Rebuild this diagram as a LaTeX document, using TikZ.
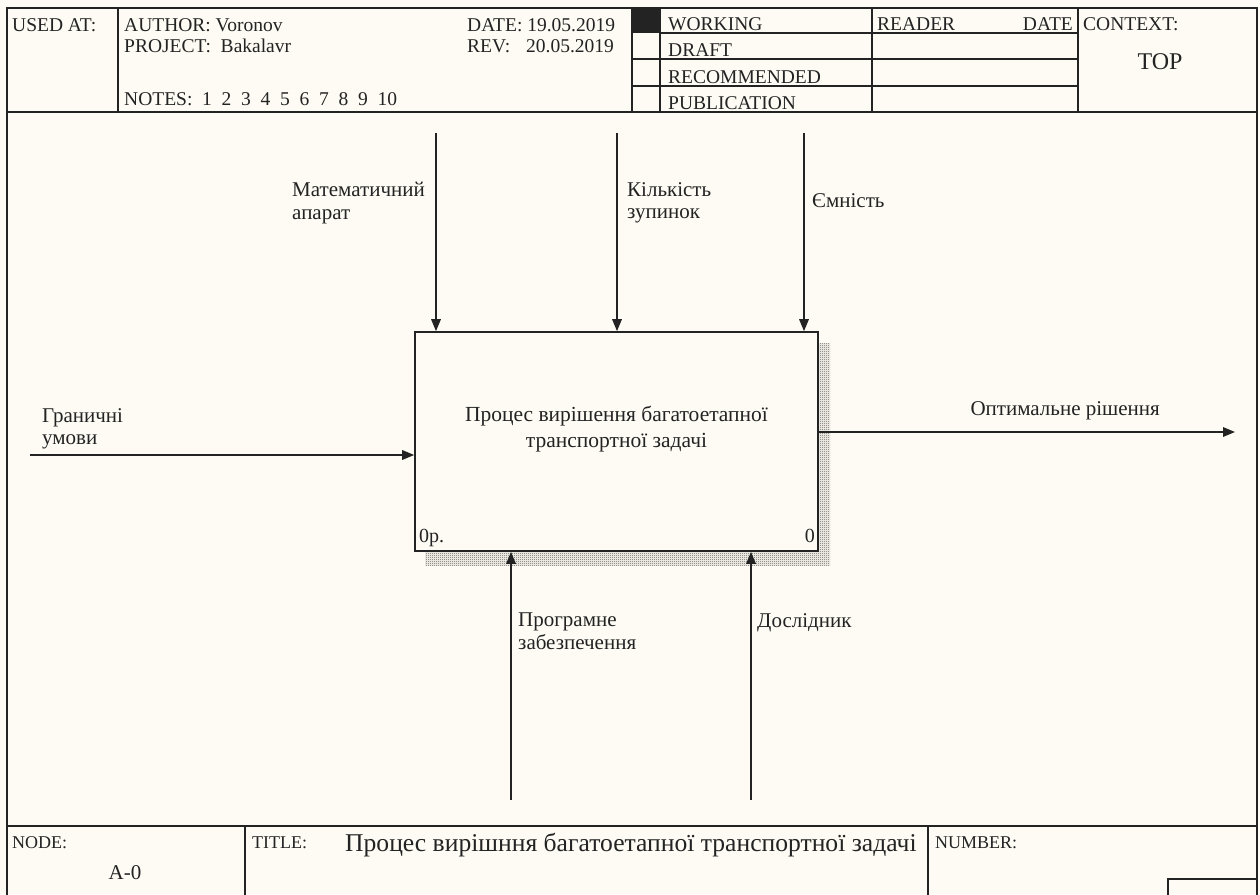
\documentclass[tikz,border=0pt]{standalone}
\usepackage{fontspec}
\setmainfont{Liberation Serif}
\usetikzlibrary{arrows.meta,patterns}
\definecolor{paper}{RGB}{253,251,243}
\definecolor{ink}{RGB}{35,35,35}
% fine checkered fill used for the box shadow
\pgfdeclarepatternformonly{finecheck}{\pgfpointorigin}{\pgfpoint{2pt}{2pt}}{\pgfpoint{2pt}{2pt}}{%
  \pgfpathrectangle{\pgfpointorigin}{\pgfpoint{1pt}{1pt}}%
  \pgfpathrectangle{\pgfpoint{1pt}{1pt}}{\pgfpoint{1pt}{1pt}}%
  \pgfusepath{fill}}
\begin{document}
\begin{tikzpicture}[x=1pt,y=-1pt,
  frame/.style={draw=ink,line width=1.6pt},
  flow/.style={draw=ink,line width=1.6pt,-{Triangle[length=12pt,width=9.5pt]}},
  hdr/.style={font=\fontsize{19.5}{21}\selectfont,inner sep=0pt,anchor=base west,text=ink},
  foot/.style={font=\fontsize{18}{20}\selectfont,inner sep=0pt,anchor=base west,text=ink},
  lbl/.style={font=\fontsize{21}{22.5}\selectfont,align=left,inner sep=0pt,anchor=north west,text=ink},
  activity/.style={draw=ink,line width=1.6pt,fill=paper,minimum width=403pt,minimum height=219pt,inner sep=0pt},
]
\fill[paper] (0,0) rectangle (1260,894);
\useasboundingbox (0,0) rectangle (1260,894);

% ---------- header block ----------
\draw[frame] (7,900) -- (7,8) -- (1257,8) -- (1257,900);
\draw[frame] (7,112) -- (1257,112);
\foreach \x in {118,632,660,872,1078} \draw[frame] (\x,8) -- (\x,112);
\draw[frame] (660,33) -- (1078,33);
\draw[frame] (632,59) -- (1078,59);
\draw[frame] (632,86) -- (1078,86);
\fill[ink] (632,8) rectangle (660,33);

\node[hdr] (usedat) at (12,31) {USED AT:};
\node[hdr] (author) at (124,31) {AUTHOR:\ Voronov};
\node[hdr] (project) at (124,52) {PROJECT:\ \ Bakalavr};
\node[hdr] (notes) at (124,105) {NOTES:\ \ 1\enspace 2\enspace 3\enspace 4\enspace 5\enspace 6\enspace 7\enspace 8\enspace 9\enspace 10};
\node[hdr] (date) at (467,31) {DATE:\ 19.05.2019};
\node[hdr] (rev) at (467,52) {REV:\hspace{16pt}20.05.2019};
\node[hdr] (working) at (668,30) {WORKING};
\node[hdr] (draft) at (668,56) {DRAFT};
\node[hdr] (recommended) at (668,83) {RECOMMENDED};
\node[hdr] (publication) at (668,109) {PUBLICATION};
\node[hdr] (reader) at (877,30) {READER};
\node[hdr,anchor=base east] (rdate) at (1073,30) {DATE};
\node[hdr] (context) at (1083,30) {CONTEXT:};
\node[hdr,anchor=base,font=\fontsize{24}{26}\selectfont] (top) at (1160,69) {TOP};

% ---------- footer block ----------
\draw[frame] (7,826) -- (1257,826);
\draw[frame] (245,826) -- (245,900);
\draw[frame] (928,826) -- (928,900);
\draw[frame] (1168,900) -- (1168,879) -- (1257,879);

\node[foot] (nodelbl) at (12,848) {NODE:};
\node[foot,anchor=base,font=\fontsize{21}{23}\selectfont] (nodeid) at (125,879) {A-0};
\node[foot] (titlelbl) at (252,848) {TITLE:};
\node[foot,font=\fontsize{25.6}{28}\selectfont] (title) at (345,851) {Процес вирішння багатоетапної транспортної задачі};
\node[foot] (numberlbl) at (935,848) {NUMBER:};

% ---------- activity box with hatched shadow ----------
\fill[pattern=finecheck,pattern color=gray!70!black] (425,343) rectangle (830,565);
\node[activity] (proc) at (616.5,441.5) {};
\node[font=\fontsize{21.5}{26}\selectfont,align=center,text=ink] (proctext) at (616.5,429)
  {Процес вирішення багатоетапної\\транспортної задачі};
\node[foot,font=\fontsize{20}{22}\selectfont] (cost) at (419,542) {0р.};
\node[foot,font=\fontsize{20}{22}\selectfont,anchor=base east] (procnum) at (815,542) {0};

% ---------- boundary arrows ----------
\coordinate (c1) at (436,133);
\coordinate (c2) at (617,133);
\coordinate (c3) at (804,133);
\coordinate (i1) at (30,455);
\coordinate (o1) at (1235,432);
\coordinate (m1) at (511,800);
\coordinate (m2) at (751,800);

\draw[flow] (c1) -- (c1 |- proc.north);
\draw[flow] (c2) -- (c2 |- proc.north);
\draw[flow] (c3) -- (c3 |- proc.north);
\draw[flow] (i1) -- (i1 -| proc.west);
\draw[flow] (o1 -| proc.east) -- (o1);
\draw[flow] (m1) -- (m1 |- proc.south);
\draw[flow] (m2) -- (m2 |- proc.south);

% ---------- arrow labels ----------
\node[lbl] (lc1) at (292,182) {Математичний\\апарат};
\node[lbl] (lc2) at (627,182) {Кількість\\зупинок};
\node[lbl] (lc3) at (812,193) {Ємність};
\node[lbl] (li1) at (42,408) {Граничні\\умови};
\node[lbl,anchor=north east] (lo1) at (1160,401) {Оптимальне рішення};
\node[lbl] (lm1) at (518,613) {Програмне\\забезпечення};
\node[lbl] (lm2) at (757,613) {Дослідник};
\end{tikzpicture}
\end{document}
